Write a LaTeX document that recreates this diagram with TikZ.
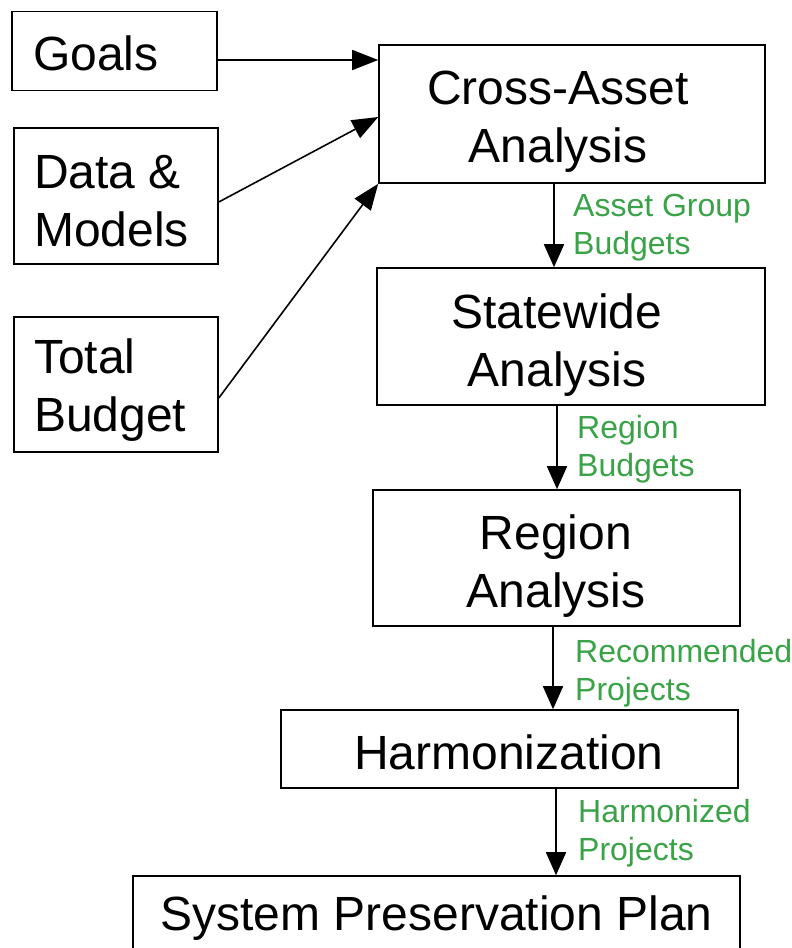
\documentclass[tikz,border=0pt]{standalone}
\usepackage{fontspec}
\setmainfont{Liberation Sans}
\usetikzlibrary{arrows.meta}
\definecolor{lblgreen}{RGB}{58,163,72}
\begin{document}
\begin{tikzpicture}[x=1pt,y=-1pt,
  box/.style={draw=black, line width=1.6pt, rectangle, inner sep=0pt},
  boxtext/.style={font=\fontsize{48}{58}\selectfont, align=center, inner sep=0pt},
  lefttext/.style={font=\fontsize{48}{58}\selectfont, align=left, inner sep=0pt, anchor=west},
  lbl/.style={text=lblgreen, font=\fontsize{32}{38}\selectfont, align=left, anchor=west, inner sep=0pt},
  arr/.style={line width=1.6pt, -{Triangle[length=26pt,width=20pt]}},
  varr/.style={line width=1.6pt, -{Triangle[length=23pt,width=20pt]}}
]
\useasboundingbox (0,0) rectangle (792,948);
\clip (0,0) rectangle (792,948);
\fill[white] (0,0) rectangle (792,948);

% left input boxes
\node[box, minimum width=205pt, minimum height=79pt] (goals) at (114.5,51) {};
\node[lefttext] (goalstext) at (33,53) {Goals};
\node[box, minimum width=204pt, minimum height=136pt] (data) at (116,196) {};
\node[lefttext] (datatext) at (34,201) {Data \&\\Models};
\node[box, minimum width=204pt, minimum height=135pt] (total) at (116,384.5) {};
\node[lefttext] (totaltext) at (34,390) {Total\\Budget};

% main flow boxes
\node[box, minimum width=386pt, minimum height=138pt] (ca) at (572,114) {};
\node[boxtext] (catext) at (558,122) {Cross-Asset\\Analysis};
\node[box, minimum width=388pt, minimum height=137pt] (sw) at (571,336.5) {};
\node[boxtext] (swtext) at (557,345) {Statewide\\Analysis};
\node[box, minimum width=367pt, minimum height=136pt] (ra) at (556.5,558) {};
\node[boxtext] (ratext) at (556,566) {Region\\Analysis};
\node[box, minimum width=457pt, minimum height=78pt] (hz) at (509.5,749) {};
\node[boxtext] (hztext) at (509,752) {Harmonization};
\node[box, minimum width=607pt, minimum height=100pt] (spp) at (436.5,926) {};
\node[boxtext] (spptext) at (436.5,918) {System Preservation Plan};

% input arrows
\draw[arr] (goals.east |- 0,60) -- (ca.west |- 0,60);
\draw[arr] (data.east |- 0,202) -- (ca.west |- 0,117);
\draw[arr] (total.east |- 0,398) -- (ca.south west);

% flow arrows
\draw[varr] (ca.south -| 554,0) -- (sw.north -| 554,0);
\draw[varr] (sw.south -| 557,0) -- (ra.north -| 557,0);
\draw[varr] (ra.south -| 553,0) -- (hz.north -| 553,0);
\draw[varr] (hz.south -| 556,0) -- (spp.north -| 556,0);

% labels
\node[lbl] (l1) at (573,228) {Asset Group\\Budgets};
\node[lbl] (l2) at (577,449) {Region\\Budgets};
\node[lbl] (l3) at (575,673) {Recommended\\Projects};
\node[lbl] (l4) at (578,833) {Harmonized\\Projects};
\end{tikzpicture}
\end{document}
